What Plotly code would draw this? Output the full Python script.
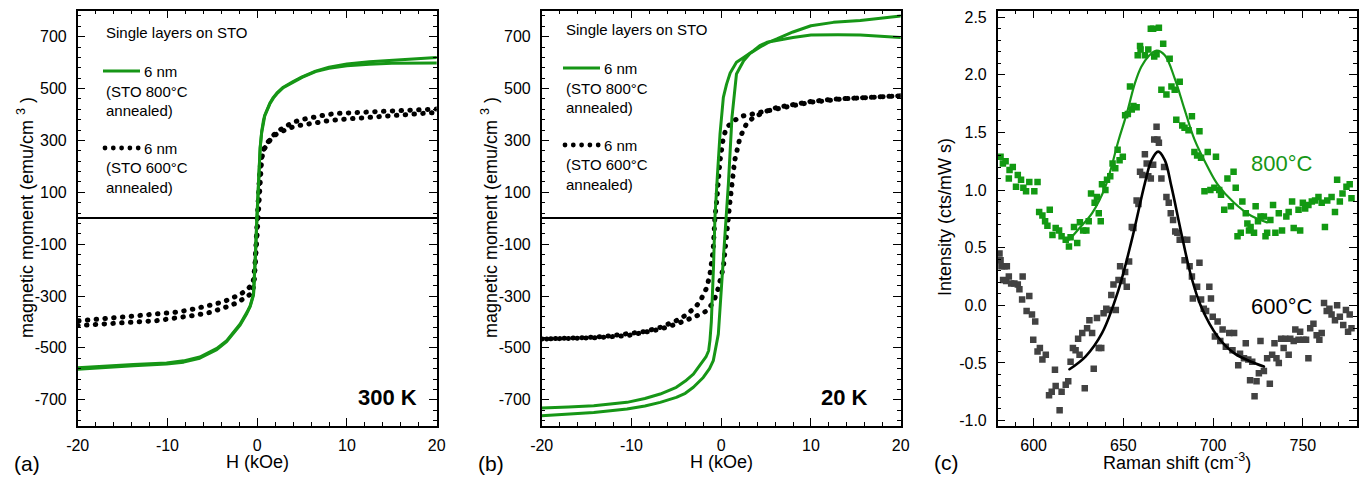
import plotly.graph_objects as go

# ------------------------------------------------------------------ data
# Panel (a): 300 K hysteresis loops (H in kOe, M in emu/cm^3)
H_a_800_down = [20, 17.5, 15, 12.5, 10, 8, 6.5, 5, 4, 2.9, 2.2, 1.8, 1.4, 1.08, 0.85, 0.7, 0.5, 0.33, 0.15, -0.04,
                -0.2, -0.41, -0.78, -1.15, -1.9, -2.6, -3.4, -4.5, -6.4, -8.2, -10.1, -13.8, -17.5, -20]
M_a_800_down = [620, 615, 610, 603, 595, 582, 567, 545, 527, 505, 483, 466, 443, 418, 398, 378, 335, 273, 150, 0,
                -150, -292, -337, -363, -408, -440, -472, -502, -535, -550, -558, -564, -571, -577]
H_a_800_up = [-20, -17.5, -13.8, -10.1, -8.2, -6.4, -4.5, -3.4, -2.6, -1.9, -1.15, -0.78, -0.41, -0.2, -0.02, 0.15,
              0.33, 0.5, 0.7, 0.85, 1.08, 1.4, 1.8, 2.2, 2.9, 4, 5, 6.5, 8, 10, 12.5, 15, 17.5, 20]
M_a_800_up = [-582, -576, -569, -562, -555, -540, -507, -476, -444, -412, -367, -341, -296, -150, 0, 150,
              270, 330, 372, 395, 414, 440, 463, 480, 503, 525, 543, 565, 578, 588, 594, 597, 598, 598]

H_a_600_down = [20, 17.5, 15.6, 13.8, 12.2, 10.5, 8.9, 7.7, 6.65, 5.7, 4.8, 3.9, 3.05, 2.4, 1.8, 1.3, 0.9, 0.6, 0.4,
                0.25, 0.1, 0.0, -0.1, -0.25, -0.48, -0.8, -1.2, -1.9, -2.7, -3.6, -4.7, -6.2, -7.7, -9.2, -11.3,
                -13.6, -16.5, -19.4, -20]
M_a_600_down = [421, 418, 415, 413, 411, 407, 404, 399, 393, 386, 379, 368, 353, 338, 320, 300, 280, 255, 220,
                160, 60, -20, -100, -180, -254, -266, -277, -294, -308, -320, -331, -344, -355, -363, -370,
                -376, -385, -395, -396]
H_a_600_up = [-20, -17.5, -15.7, -13.5, -11.2, -9.7, -8.2, -6.7, -5.2, -4, -3.0, -2.2, -1.5, -1.0, -0.6, -0.35,
              -0.15, 0.0, 0.15, 0.3, 0.5, 0.75, 1.08, 1.64, 2.3, 2.94, 3.7, 4.6, 5.6, 6.65, 7.8, 9.07, 10.8,
              12.6, 14.2, 15.9, 17.8, 19.7, 20]
M_a_600_up = [-414, -410, -405, -400, -395, -389, -382, -373, -363, -351, -337, -325, -312, -300, -290, -255,
              -150, -50, 60, 160, 230, 265, 284, 312, 328, 338, 349, 357, 364, 370, 375, 380, 385,
              389, 393, 398, 403, 408, 408]

# Panel (b): 20 K hysteresis loops
H_b_800_down = [20, 17.5, 15.5, 13, 11.7, 10, 8, 6.2, 5.1, 4.3, 3.6, 2.5, 1.7, 1.0, 0.6, 0.24, -0.13, -0.45, -0.7,
                -0.85, -0.95, -1.1, -1.25, -1.4, -1.7, -2.0, -2.5, -3.1, -4, -5.0, -6.8, -8.5, -10.5, -14.2,
                -17, -20]
M_b_800_down = [697, 703, 706, 707, 707, 706, 697, 685, 678, 665, 646, 620, 601, 560, 517, 466, 325, 150, 0,
                -180, -292, -400, -470, -511, -535, -549, -575, -601, -628, -652, -678, -695, -710, -723,
                -728, -732]
H_b_800_up = [-20, -17, -14.2, -10.5, -8.5, -6.8, -5.0, -4, -3.1, -2.0, -1.3, -0.88, -0.32, 0.05, 0.42, 0.6, 0.8,
              1.2, 1.7, 2.5, 3.2, 4.3, 5.2, 6.2, 8, 10, 12.5, 15.5, 17.5, 20]
M_b_800_up = [-762, -756, -749, -736, -724, -710, -691, -675, -652, -614, -580, -549, -447, -254, -61, 3, 132,
              389, 556, 607, 635, 659, 677, 691, 718, 742, 755, 762, 770, 780]

H_b_600_down = [20, 17.5, 15.5, 13.5, 11.7, 10, 8, 6.2, 4.3, 3.4, 2.5, 1.5, 0.6, 0.24, -0.13, -0.5, -0.7, -0.9,
                -1.25, -1.6, -2.0, -2.4, -3.1, -4, -5.0, -6.8, -8.5, -10.5, -12.5, -14.2, -17, -20]
M_b_600_down = [472, 469, 466, 460, 453, 447, 434, 423, 408, 401, 395, 378, 350, 311, 222, 67, 3, -125,
                -215, -267, -300, -324, -350, -375, -395, -421, -437, -447, -454, -459, -463, -466]
H_b_600_up = [-20, -17, -14.2, -10.5, -8.5, -6.8, -5.0, -4.0, -3.1, -2.3, -1.6, -1.0, -0.5, 0.24, 0.6, 0.8, 1.0,
              1.2, 1.5, 2.1, 2.8, 3.6, 4.3, 5.2, 6.2, 8, 10, 12.5, 15.5, 17.5, 20]
M_b_600_up = [-466, -464, -461, -453, -442, -428, -408, -396, -382, -370, -357, -330, -292, -190, -87, 3, 70,
              132, 222, 312, 363, 389, 401, 415, 427, 440, 450, 459, 466, 469, 472]

# Panel (c): Raman spectra (Raman shift in cm^-1, intensity in cts/mW s)
raman_800_x = [581.6, 582.9, 584.4, 586.6, 586.2, 588.4, 590.2, 591.2, 593.0, 594.3, 595.8, 597.6, 600.4, 602.2,
               603.1, 604.9, 606.4, 609.0, 607.7, 610.5, 612.3, 614.2, 615.6, 617.9, 619.7, 620.6, 622.5, 624.3,
               625.8, 627.6, 629.4, 630.7, 632.0, 634.0, 635.3, 636.3, 637.4, 638.1, 640.0, 640.9, 642.7, 644.0,
               645.5, 646.8, 647.9, 649.7, 651.0, 652.5, 653.7, 654.7, 655.6, 657.4, 658.0, 659.6, 659.3, 662.0,
               663.9, 665.3, 666.6, 667.2, 668.5, 669.8, 671.2, 672.2, 674.0, 675.8, 676.8, 678.6, 679.5, 681.4,
               682.8, 684.1, 686.3, 688.2, 689.6, 691.1, 692.4, 693.3, 695.2, 697.0, 698.5, 700.7, 701.6, 703.4,
               704.4, 706.2, 708.0, 709.9, 711.4, 712.6, 713.6, 715.4, 716.3, 718.2, 719.1, 720.0, 720.9, 722.8,
               723.7, 725.0, 726.4, 728.3, 729.2, 730.1, 731.9, 733.4, 734.7, 736.6, 738.4, 740.8, 742.1, 744.0,
               744.9, 747.6, 748.5, 750.0, 751.3, 753.1, 755.0, 756.8, 758.7, 760.5, 762.3, 763.6, 766.0, 767.9,
               769.1, 770.6, 772.1, 774.3, 776.1, 777.1]
raman_800_y = [1.29, 1.23, 1.25, 1.175, 1.10, 1.20, 1.03, 1.13, 1.09, 1.02, 0.99, 1.07, 0.99, 1.07,
               0.81, 0.78, 0.73, 0.83, 0.69, 0.61, 0.67, 0.65, 0.60, 0.57, 0.51, 0.59, 0.68, 0.54,
               0.72, 0.65, 0.65, 0.73, 0.97, 0.89, 0.94, 0.80, 0.73, 1.05, 1.00, 1.09, 1.12, 1.23,
               1.19, 1.35, 1.26, 1.29, 1.65, 1.66, 1.90, 1.70, 1.73, 1.72, 2.17, 2.22, 2.25, 2.17,
               2.22, 2.40, 2.40, 2.16, 2.18, 2.41, 1.87, 2.27, 1.83, 2.14, 1.90, 1.87, 1.61, 1.94,
               1.56, 1.54, 1.52, 1.64, 1.33, 1.30, 1.51, 1.28, 0.99, 1.33, 1.00, 1.02, 1.29, 1.00,
               0.96, 0.83, 1.10, 0.86, 1.16, 1.02, 0.60, 0.63, 0.90, 0.80, 0.71, 0.65, 0.68, 0.63,
               0.86, 0.73, 0.77, 0.77, 0.60, 0.63, 0.74, 0.87, 0.63, 0.80, 0.65, 0.77, 0.81, 0.90,
               0.67, 0.83, 0.65, 0.89, 0.84, 0.87, 0.90, 0.91, 0.94, 0.89, 0.68, 0.91, 0.94, 0.81,
               1.09, 0.90, 0.97, 1.03, 1.05, 0.93]
raman_600_x = [581.0, 581.6, 582.1, 583.8, 585.1, 583.0, 584.7, 586.2, 587.5, 589.3,
               591.2, 592.1, 593.9, 593.6, 596.1, 597.6, 599.1, 600.9, 599.8, 602.2,
               603.5, 604.9, 606.8, 608.6, 610.1, 611.9, 612.3, 614.5, 615.6, 617.9,
               619.3, 620.6, 621.9, 623.4, 624.8, 625.6, 627.1, 628.5, 629.8, 631.1,
               632.6, 633.5, 635.3, 636.3, 637.7, 639.0, 640.5, 642.1, 643.3, 644.5,
               645.8, 647.3, 648.2, 649.5, 651.0, 651.9, 653.2, 654.7, 655.6, 657.4,
               658.4, 659.3, 660.6, 662.0, 663.0, 663.9, 665.3, 666.6, 667.2, 668.5,
               669.0, 669.8, 671.2, 672.7, 674.0, 675.3, 676.4, 677.7, 678.9, 680.1,
               681.4, 683.2, 685.6, 684.1, 686.9, 688.2, 688.7, 691.1, 692.4, 693.3,
               694.8, 696.1, 697.9, 698.8, 699.8, 701.0, 702.5, 704.0, 705.3, 707.1,
               709.0, 710.8, 711.7, 714.0, 715.0, 717.2, 718.2, 719.6, 720.6, 721.8,
               723.1, 724.2, 725.5, 726.4, 728.3, 730.1, 731.6, 732.9, 734.2, 735.3,
               736.6, 737.9, 739.3, 740.2, 742.1, 743.0, 744.9, 745.8, 747.6, 748.5,
               750.4, 751.8, 753.1, 754.1, 755.9, 757.7, 759.2, 760.5, 761.8, 763.3,
               764.8, 766.0, 767.9, 769.1, 770.6, 772.5, 774.0, 775.2, 776.1, 777.1]
raman_600_y = [0.45, 0.39, 0.34, 0.34, 0.34, 0.22, 0.21, 0.25, 0.19, 0.19,
               0.18, 0.14, 0.25, 0.05, -0.05, 0.08, -0.08, -0.14, -0.30, -0.40,
               -0.37, -0.47, -0.43, -0.78, -0.75, -0.56, -0.70, -0.91, -0.75, -0.69,
               -0.66, -0.49, -0.37, -0.39, -0.29, -0.43, -0.24, -0.72, -0.20, -0.13,
               -0.24, -0.55, -0.11, -0.37, -0.37, -0.07, -0.03, -0.04, 0.09, 0.18,
               -0.04, 0.22, 0.34, 0.21, 0.29, 0.16, 0.38, 0.68, 0.67, 0.91,
               0.88, 1.16, 1.13, 1.31, 1.23, 1.12, 1.10, 1.22, 1.44, 1.55,
               1.44, 1.41, 1.10, 1.20, 0.94, 0.89, 0.80, 0.74, 0.64, 0.63,
               0.57, 0.57, 0.57, 0.39, 0.34, 0.25, 0.06, 0.16, 0.37, 0.05,
               -0.03, -0.05, 0.16, 0.06, -0.10, -0.27, -0.14, -0.31, -0.21, -0.36,
               -0.24, -0.39, -0.24, -0.52, -0.42, -0.46, -0.33, -0.47, -0.65, -0.49,
               -0.79, -0.66, -0.59, -0.31, -0.57, -0.46, -0.68, -0.43, -0.33, -0.46,
               -0.50, -0.29, -0.37, -0.29, -0.43, -0.29, -0.31, -0.21, -0.30, -0.23,
               -0.30, -0.30, -0.46, -0.20, -0.16, -0.26, -0.30, -0.24, 0.02, -0.05,
               -0.03, -0.08, -0.13, 0.00, -0.10, -0.17, -0.04, -0.23, -0.08, -0.20]
fit_800_x = [620, 625, 632.6, 640, 647.3, 652, 656.5, 660, 663.9, 668.5, 673.1, 678.6, 684.1, 689.6, 697,
             702.5, 711.7, 720.9, 730]
fit_800_y = [0.57, 0.66, 0.80, 1.03, 1.43, 1.67, 1.93, 2.07, 2.16, 2.21, 2.17, 1.97, 1.70, 1.44, 1.20,
             1.05, 0.89, 0.78, 0.72]
fit_600_x = [620, 628.9, 638.1, 647.3, 654.7, 662, 665.7, 669.4, 673.1, 676.8, 682.3, 687.8, 693.3, 702.5,
             711.7, 720.9, 728.3]
fit_600_y = [-0.555, -0.445, -0.242, 0.134, 0.568, 1.06, 1.26, 1.334, 1.26, 1.03, 0.626, 0.25, -0.01, -0.27,
             -0.415, -0.488, -0.532]

# tick labels
M_ticks = [-700, -500, -300, -100, 100, 300, 500, 700]
M_ticktext = ['-700', '-500', '-300', '-100', '100', '300', '500', '700']
H_ticks = [-20, -10, 0, 10, 20]
H_ticktext = ['-20', '-10', '0', '10', '20']
R_ticks = [600, 650, 700, 750]
R_ticktext = ['600', '650', '700', '750']
I_ticks = [-1.0, -0.5, 0.0, 0.5, 1.0, 1.5, 2.0, 2.5]
I_ticktext = ['-1.0', '-0.5', '0.0', '0.5', '1.0', '1.5', '2.0', '2.5']

# ------------------------------------------------------------------ style
W, HT = 1365, 477
FONT = 'Liberation Sans, Arial, Helvetica, sans-serif'
GREEN_LINE = '#169616'
GREEN_MARK = '#129912'
GRAY_MARK = '#424242'
DOT_DASH = '0.5px,8.3px'


def px(x):
    return x / W


def py(y):
    return 1 - y / HT


y_dom = [py(425.7), py(10.7)]
dom_a = [px(77.7), px(436.7)]
dom_b = [px(541.7), px(900.7)]
dom_c = [px(997.7), px(1356.7)]

fig = go.Figure()

# panel (a)
fig.add_trace(go.Scatter(x=H_a_600_down, y=M_a_600_down, mode='lines',
                         line=dict(color='black', width=5, dash=DOT_DASH), xaxis='x', yaxis='y'))
fig.add_trace(go.Scatter(x=H_a_600_up, y=M_a_600_up, mode='lines',
                         line=dict(color='black', width=5, dash=DOT_DASH), xaxis='x', yaxis='y'))
fig.add_trace(go.Scatter(x=H_a_800_down, y=M_a_800_down, mode='lines',
                         line=dict(color=GREEN_LINE, width=3), xaxis='x', yaxis='y'))
fig.add_trace(go.Scatter(x=H_a_800_up, y=M_a_800_up, mode='lines',
                         line=dict(color=GREEN_LINE, width=3), xaxis='x', yaxis='y'))
# panel (b)
fig.add_trace(go.Scatter(x=H_b_600_down, y=M_b_600_down, mode='lines',
                         line=dict(color='black', width=5, dash=DOT_DASH), xaxis='x2', yaxis='y2'))
fig.add_trace(go.Scatter(x=H_b_600_up, y=M_b_600_up, mode='lines',
                         line=dict(color='black', width=5, dash=DOT_DASH), xaxis='x2', yaxis='y2'))
fig.add_trace(go.Scatter(x=H_b_800_down, y=M_b_800_down, mode='lines',
                         line=dict(color=GREEN_LINE, width=3), xaxis='x2', yaxis='y2'))
fig.add_trace(go.Scatter(x=H_b_800_up, y=M_b_800_up, mode='lines',
                         line=dict(color=GREEN_LINE, width=3), xaxis='x2', yaxis='y2'))
# panel (c)
fig.add_trace(go.Scatter(x=raman_800_x, y=raman_800_y, mode='markers',
                         marker=dict(symbol='square', size=6.5, color=GREEN_MARK, line=dict(width=0)),
                         xaxis='x3', yaxis='y3'))
fig.add_trace(go.Scatter(x=raman_600_x, y=raman_600_y, mode='markers',
                         marker=dict(symbol='square', size=6.5, color=GRAY_MARK, line=dict(width=0)),
                         xaxis='x3', yaxis='y3'))
fig.add_trace(go.Scatter(x=fit_800_x, y=fit_800_y, mode='lines', line_shape='spline',
                         line=dict(color=GREEN_LINE, width=2.2), xaxis='x3', yaxis='y3'))
fig.add_trace(go.Scatter(x=fit_600_x, y=fit_600_y, mode='lines', line_shape='spline',
                         line=dict(color='black', width=2.6), xaxis='x3', yaxis='y3'))


def axis_common(**kw):
    d = dict(showline=True, linecolor='black', linewidth=1.5, mirror='allticks',
             ticks='inside', ticklen=8, tickwidth=1.3, tickcolor='black',
             showgrid=False, zeroline=False, ticklabelstandoff=6,
             tickfont=dict(family=FONT, size=16, color='black'))
    d.update(kw)
    return d


def minor(dt, t0):
    return dict(ticks='inside', ticklen=4, tickwidth=1.1, tickcolor='black', dtick=dt, tick0=t0, showgrid=False)


layout_axes = dict(
    xaxis=axis_common(domain=dom_a, anchor='y', range=[-20, 20], tickmode='array', tickvals=H_ticks,
                      ticktext=H_ticktext, minor=minor(2, 0), ticklabelstandoff=4),
    yaxis=axis_common(domain=y_dom, anchor='x', range=[-800, 800], tickmode='array', tickvals=M_ticks,
                      ticktext=M_ticktext, minor=minor(40, -700), zeroline=True, zerolinecolor='black',
                      zerolinewidth=1.6),
    xaxis2=axis_common(domain=dom_b, anchor='y2', range=[-20, 20], tickmode='array', tickvals=H_ticks,
                       ticktext=H_ticktext, minor=minor(2, 0), ticklabelstandoff=4),
    yaxis2=axis_common(domain=y_dom, anchor='x2', range=[-800, 800], tickmode='array', tickvals=M_ticks,
                       ticktext=M_ticktext, minor=minor(40, -700), zeroline=True, zerolinecolor='black',
                       zerolinewidth=1.6),
    xaxis3=axis_common(domain=dom_c, anchor='y3', range=[580, 780], tickmode='array', tickvals=R_ticks,
                       ticktext=R_ticktext, minor=minor(10, 600), ticklabelstandoff=4),
    yaxis3=axis_common(domain=y_dom, anchor='x3', range=[-1.045, 2.557], tickmode='array', tickvals=I_ticks,
                       ticktext=I_ticktext, minor=minor(0.1, 0)),
)

ann = []


def text(x, y, s, size=15, color='black', xanchor='left', angle=0):
    ann.append(dict(x=px(x), y=py(y), xref='paper', yref='paper', text=s, showarrow=False,
                    xanchor=xanchor, yanchor='middle', textangle=angle,
                    font=dict(family=FONT, size=size, color=color)))


# axis titles
text(25, 218, 'magnetic moment (emu/cm <sup>3</sup> )', 18, xanchor='center', angle=-90)
text(257, 462, 'H (kOe)', 18, xanchor='center')
text(489, 218, 'magnetic moment (emu/cm <sup>3</sup> )', 18, xanchor='center', angle=-90)
text(721, 462, 'H (kOe)', 18, xanchor='center')
text(945, 217, 'Intensity (cts/mW s)', 18, xanchor='center', angle=-90)
text(1177, 461, 'Raman shift (cm<sup>-3</sup>)', 18, xanchor='center')
# panel letters
text(12, 463, '(a)', 21)
text(476, 463, '(b)', 21)
text(932, 462, '(c)', 21)
# temperature labels
text(387, 397, '<b>300 K</b>', 22, xanchor='center')
text(844, 397, '<b>20 K</b>', 22, xanchor='center')
text(1249, 163, '800°C', 22, color=GREEN_LINE)
text(1249, 306, '600°C', 22)

shapes = []
# in-plot legends
for (ox, oy) in [(0, 0), (460, -3)]:
    text(104 + ox, 33 + oy, 'Single layers on STO', 15)
    text(142 + ox, 71 + oy, '6 nm', 15)
    text(104 + ox, 91 + oy, '(STO 800°C', 15)
    text(104 + ox, 110 + oy, 'annealed)', 15)
    text(142 + ox, 148 + oy, '6 nm', 15)
    text(104 + ox, 168 + oy, '(STO 600°C', 15)
    text(104 + ox, 187 + oy, 'annealed)', 15)
    shapes.append(dict(type='line', xref='paper', yref='paper', x0=px(103 + ox), x1=px(140 + ox),
                       y0=py(71 + oy), y1=py(71 + oy), line=dict(color=GREEN_LINE, width=3)))
    for k in range(5):
        cx = 105 + ox + k * 8.3
        shapes.append(dict(type='circle', xref='paper', yref='paper', xsizemode='pixel', ysizemode='pixel',
                           xanchor=px(cx), yanchor=py(148 + oy), x0=-2.4, x1=2.4, y0=-2.4, y1=2.4,
                           fillcolor='black', line=dict(width=0)))

fig.update_layout(
    width=W, height=HT, margin=dict(l=0, r=0, t=0, b=0),
    paper_bgcolor='white', plot_bgcolor='white', template='none',
    showlegend=False, font=dict(family=FONT, color='black'),
    annotations=ann, shapes=shapes, **layout_axes)

post = ("var s=document.createElement('style');"
        "s.textContent='html,body{margin:0;padding:0;overflow:hidden;}"
        ".scatterlayer path.js-line{stroke-linecap:round;stroke-linejoin:round;}';"
        "document.head.appendChild(s);")
fig.write_html("out.html", config={'displayModeBar': False}, post_script=post)
